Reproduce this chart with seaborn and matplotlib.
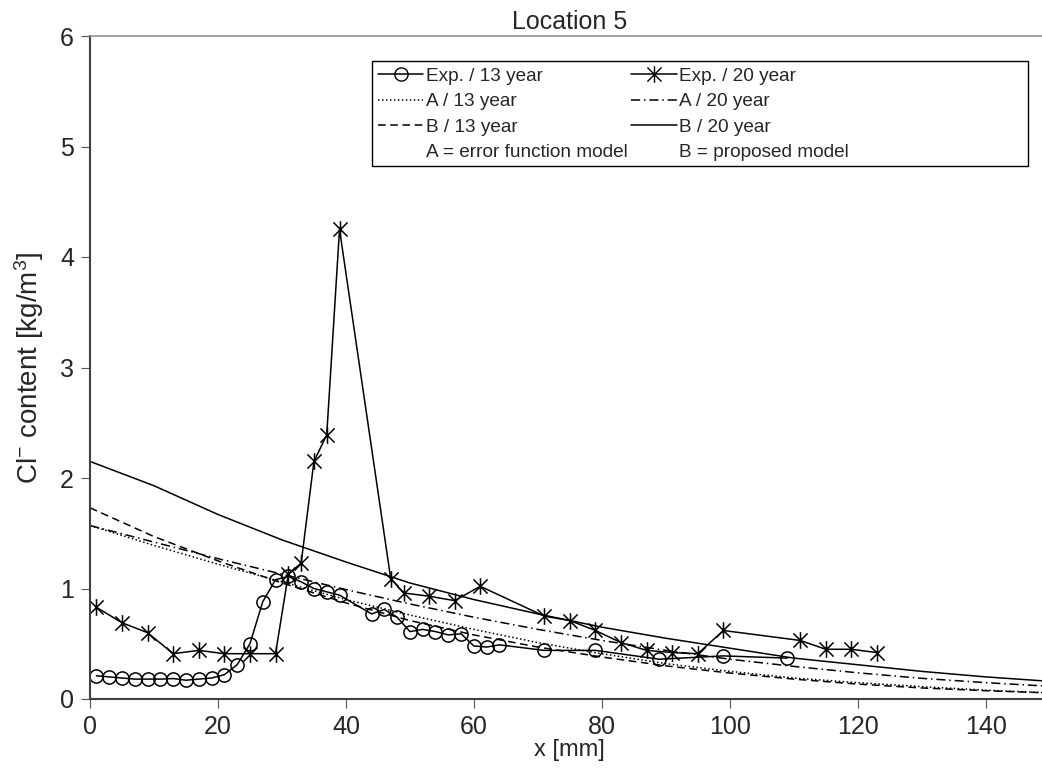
import matplotlib
matplotlib.use("Agg")
import matplotlib.pyplot as plt
import seaborn as sns
from matplotlib.lines import Line2D
from matplotlib.path import Path
from matplotlib.patches import Rectangle

# measured chloride profiles, location 5
exp13_x = [1, 3, 5, 7, 9, 11, 13, 15, 17, 19, 21, 23, 25, 27, 29, 31, 33, 35, 37,
           39, 44, 46, 48, 50, 52, 54, 56, 58, 60, 62, 64, 71, 79, 89, 99, 109]
exp13_y = [0.21, 0.20, 0.19, 0.18, 0.18, 0.18, 0.185, 0.17, 0.18, 0.19, 0.22, 0.31,
           0.50, 0.88, 1.08, 1.11, 1.06, 1.00, 0.97, 0.94, 0.77, 0.81, 0.74, 0.61,
           0.63, 0.61, 0.58, 0.59, 0.48, 0.47, 0.49, 0.44, 0.44, 0.36, 0.39, 0.37]

exp20_x = [1, 5, 9, 13, 17, 21, 25, 29, 31, 33, 35, 37, 39, 47, 49, 53, 57, 61,
           71, 75, 79, 83, 87, 91, 95, 99, 111, 115, 119, 123]
exp20_y = [0.83, 0.69, 0.60, 0.41, 0.44, 0.41, 0.41, 0.41, 1.13, 1.23, 2.15, 2.39,
           4.25, 1.09, 0.96, 0.93, 0.89, 1.02, 0.75, 0.71, 0.62, 0.51, 0.44, 0.42,
           0.41, 0.62, 0.53, 0.45, 0.45, 0.42]

# model curves every 10 mm
model_x = [0, 10, 20, 30, 40, 50, 60, 70, 80, 90, 100, 110, 120, 130, 140, 150]
a13_y = [1.57, 1.39, 1.22, 1.06, 0.90, 0.76, 0.63, 0.51, 0.41, 0.32, 0.25, 0.19,
         0.148, 0.112, 0.080, 0.055]
a20_y = [1.57, 1.42, 1.27, 1.13, 0.99, 0.86, 0.74, 0.63, 0.53, 0.44, 0.36, 0.295,
         0.237, 0.187, 0.148, 0.115]
b13_y = [1.73, 1.47, 1.25, 1.05, 0.87, 0.71, 0.58, 0.47, 0.38, 0.30, 0.235, 0.18,
         0.135, 0.10, 0.075, 0.055]
b20_y = [2.15, 1.93, 1.67, 1.44, 1.24, 1.05, 0.90, 0.77, 0.65, 0.55, 0.46, 0.37,
         0.31, 0.25, 0.20, 0.16]

sns.set_theme(style="white")
plt.rcParams["font.family"] = ["Liberation Sans", "DejaVu Sans"]
plt.rcParams["mathtext.fontset"] = "custom"
plt.rcParams["mathtext.rm"] = "Liberation Sans"
plt.rcParams["mathtext.it"] = "Liberation Sans:italic"

# asterisk marker: vertical bar plus an X
star = Path(
    [(0, -1), (0, 1), (-0.85, -0.85), (0.85, 0.85), (-0.85, 0.85), (0.85, -0.85)],
    [Path.MOVETO, Path.LINETO, Path.MOVETO, Path.LINETO, Path.MOVETO, Path.LINETO],
)

dotted = (0, (1, 1.6))
dashed = (0, (5, 3))
dashdot = (0, (6, 2.5, 1, 2.5))

fig = plt.figure(figsize=(10.42, 7.84), dpi=100)
ax = fig.add_axes([90 / 1042, 85 / 784, 959.7 / 1042, 663 / 784])

lw = 1.1
sns.lineplot(x=model_x, y=a13_y, ax=ax, color="black", lw=lw, linestyle=dotted,
             sort=False, estimator=None, legend=False)
sns.lineplot(x=model_x, y=a20_y, ax=ax, color="black", lw=lw, linestyle=dashdot,
             sort=False, estimator=None, legend=False)
sns.lineplot(x=model_x, y=b13_y, ax=ax, color="black", lw=lw, linestyle=dashed,
             sort=False, estimator=None, legend=False)
sns.lineplot(x=model_x, y=b20_y, ax=ax, color="black", lw=lw, linestyle="-",
             sort=False, estimator=None, legend=False)
sns.lineplot(x=exp13_x, y=exp13_y, ax=ax, color="black", lw=lw, marker="o",
             markersize=9.5, markerfacecolor="none", markeredgecolor="black",
             markeredgewidth=1.1, sort=False, estimator=None, legend=False)
sns.lineplot(x=exp20_x, y=exp20_y, ax=ax, color="black", lw=lw, marker=star,
             markersize=12, markeredgecolor="black", markeredgewidth=1.1,
             sort=False, estimator=None, legend=False)

ax.set_xlim(0, 150)
ax.set_ylim(0, 6)
ax.set_xticks(range(0, 141, 20))
ax.set_yticks(range(0, 7))
ax.tick_params(axis="both", direction="out", length=6.5, width=0.8,
               color="#555555", labelsize=18, pad=5, bottom=True, left=True)
ax.spines["left"].set_color("#404040")
ax.spines["left"].set_linewidth(1.5)
ax.spines["bottom"].set_color("#404040")
ax.spines["bottom"].set_linewidth(1.5)
ax.spines["top"].set_color("#909090")
ax.spines["top"].set_linewidth(1.2)
ax.spines["right"].set_visible(False)

ax.set_title("Location 5", fontsize=18, pad=5)
ax.set_xlabel("x [mm]", fontsize=17, labelpad=0)
ax.set_ylabel(r"Cl$^{\mathrm{-}}$ content [kg/m$^{\mathrm{3}}$]", fontsize=20, labelpad=10)

handles = [
    Line2D([], [], color="black", lw=lw, marker="o", markersize=9.5,
           markerfacecolor="none", markeredgecolor="black"),
    Line2D([], [], color="black", lw=lw, linestyle=dotted),
    Line2D([], [], color="black", lw=lw, linestyle=dashed),
    Line2D([], [], linestyle="none"),
    Line2D([], [], color="black", lw=lw, marker=star, markersize=12,
           markeredgecolor="black"),
    Line2D([], [], color="black", lw=lw, linestyle=dashdot),
    Line2D([], [], color="black", lw=lw, linestyle="-"),
    Line2D([], [], linestyle="none"),
]
labels = [
    "Exp. / 13 year", "A / 13 year", "B / 13 year", "A = error function model",
    "Exp. / 20 year", "A / 20 year", "B / 20 year", "B = proposed model",
]
fig.legend(handles, labels, ncol=2, loc="upper left",
           bbox_to_anchor=(373 / 1042, 1 - 63 / 784), bbox_transform=fig.transFigure,
           frameon=False, fontsize=13.7, borderaxespad=0, borderpad=0.25,
           handlelength=2.4, handletextpad=0.12, columnspacing=0.2,
           labelspacing=0.42, numpoints=1)
fig.add_artist(Rectangle((372 / 1042, 1 - 166 / 784), 656 / 1042, 105 / 784,
                         transform=fig.transFigure, fill=False,
                         edgecolor="black", lw=1))

fig.savefig("out.png", dpi=100)
